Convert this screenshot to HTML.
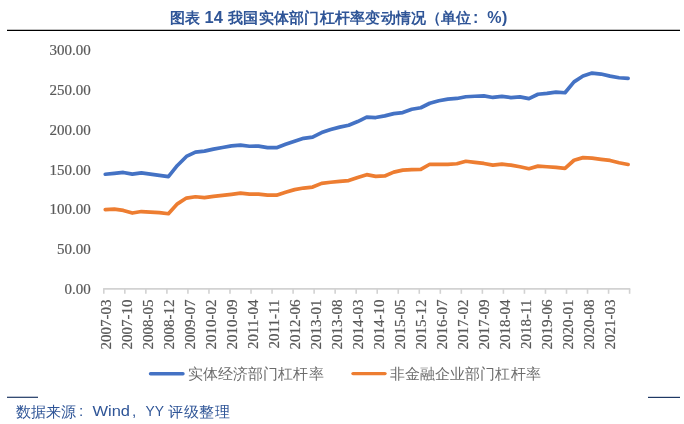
<!DOCTYPE html>
<html><head><meta charset="utf-8"><style>
html,body{margin:0;padding:0;background:#fff;width:684px;height:424px;overflow:hidden}
svg{position:absolute;left:0;top:0;will-change:transform}
.t{font-family:"Liberation Sans",sans-serif;}
</style></head><body>
<svg width="684" height="424" viewBox="0 0 684 424">
<g font-family="Liberation Sans, sans-serif" font-weight="bold" fill="#2f5597">
<text x="169.50 184.75" y="23" font-size="15.3">图表</text>
<text x="204.5" y="23" font-size="16" textLength="18.3" lengthAdjust="spacingAndGlyphs">14</text>
<text x="228.00 243.25 258.50 273.75 289.00 304.25 319.50 334.75 350.00 365.25 380.50 395.75 411.00" y="23" font-size="15.3">我国实体部门杠杆率变动情况</text>
<text x="426" y="23" font-size="15.3">（</text>
<text x="440.70 455.95" y="23" font-size="15.3">单位</text>
<text x="473" y="23" font-size="16">:</text>
<text x="487.3" y="23" font-size="16">%</text>
<text x="502" y="23" font-size="16">)</text>
</g>
<line x1="7" y1="30.4" x2="680" y2="30.4" stroke="#000" stroke-width="1.4"/>
<g font-family="Liberation Serif, serif" font-size="15" fill="#595959" stroke="#595959" stroke-width="0.2"><text x="90.8" y="55.15" text-anchor="end">300.00</text><text x="90.8" y="94.97" text-anchor="end">250.00</text><text x="90.8" y="134.80" text-anchor="end">200.00</text><text x="90.8" y="174.62" text-anchor="end">150.00</text><text x="90.8" y="214.45" text-anchor="end">100.00</text><text x="90.8" y="254.27" text-anchor="end">50.00</text><text x="90.8" y="294.10" text-anchor="end">0.00</text><text transform="translate(110.50,299.5) rotate(-90)" text-anchor="end">2007-03</text><text transform="translate(131.53,299.5) rotate(-90)" text-anchor="end">2007-10</text><text transform="translate(152.57,299.5) rotate(-90)" text-anchor="end">2008-05</text><text transform="translate(173.60,299.5) rotate(-90)" text-anchor="end">2008-12</text><text transform="translate(194.63,299.5) rotate(-90)" text-anchor="end">2009-07</text><text transform="translate(215.66,299.5) rotate(-90)" text-anchor="end">2010-02</text><text transform="translate(236.69,299.5) rotate(-90)" text-anchor="end">2010-09</text><text transform="translate(257.73,299.5) rotate(-90)" text-anchor="end">2011-04</text><text transform="translate(278.76,299.5) rotate(-90)" text-anchor="end">2011-11</text><text transform="translate(299.79,299.5) rotate(-90)" text-anchor="end">2012-06</text><text transform="translate(320.82,299.5) rotate(-90)" text-anchor="end">2013-01</text><text transform="translate(341.85,299.5) rotate(-90)" text-anchor="end">2013-08</text><text transform="translate(362.89,299.5) rotate(-90)" text-anchor="end">2014-03</text><text transform="translate(383.92,299.5) rotate(-90)" text-anchor="end">2014-10</text><text transform="translate(404.95,299.5) rotate(-90)" text-anchor="end">2015-05</text><text transform="translate(425.98,299.5) rotate(-90)" text-anchor="end">2015-12</text><text transform="translate(447.01,299.5) rotate(-90)" text-anchor="end">2016-07</text><text transform="translate(468.05,299.5) rotate(-90)" text-anchor="end">2017-02</text><text transform="translate(489.08,299.5) rotate(-90)" text-anchor="end">2017-09</text><text transform="translate(510.11,299.5) rotate(-90)" text-anchor="end">2018-04</text><text transform="translate(531.14,299.5) rotate(-90)" text-anchor="end">2018-11</text><text transform="translate(552.17,299.5) rotate(-90)" text-anchor="end">2019-06</text><text transform="translate(573.21,299.5) rotate(-90)" text-anchor="end">2020-01</text><text transform="translate(594.24,299.5) rotate(-90)" text-anchor="end">2020-08</text><text transform="translate(615.27,299.5) rotate(-90)" text-anchor="end">2021-03</text></g>
<g stroke="#d2d2d2" stroke-width="1.6">
<line x1="103.1" y1="288.9" x2="630.3000000000001" y2="288.9"/><line x1="103.80" y1="288.9" x2="103.80" y2="293.8"/><line x1="124.83" y1="288.9" x2="124.83" y2="293.8"/><line x1="145.86" y1="288.9" x2="145.86" y2="293.8"/><line x1="166.90" y1="288.9" x2="166.90" y2="293.8"/><line x1="187.93" y1="288.9" x2="187.93" y2="293.8"/><line x1="208.96" y1="288.9" x2="208.96" y2="293.8"/><line x1="229.99" y1="288.9" x2="229.99" y2="293.8"/><line x1="251.02" y1="288.9" x2="251.02" y2="293.8"/><line x1="272.06" y1="288.9" x2="272.06" y2="293.8"/><line x1="293.09" y1="288.9" x2="293.09" y2="293.8"/><line x1="314.12" y1="288.9" x2="314.12" y2="293.8"/><line x1="335.15" y1="288.9" x2="335.15" y2="293.8"/><line x1="356.18" y1="288.9" x2="356.18" y2="293.8"/><line x1="377.22" y1="288.9" x2="377.22" y2="293.8"/><line x1="398.25" y1="288.9" x2="398.25" y2="293.8"/><line x1="419.28" y1="288.9" x2="419.28" y2="293.8"/><line x1="440.31" y1="288.9" x2="440.31" y2="293.8"/><line x1="461.34" y1="288.9" x2="461.34" y2="293.8"/><line x1="482.38" y1="288.9" x2="482.38" y2="293.8"/><line x1="503.41" y1="288.9" x2="503.41" y2="293.8"/><line x1="524.44" y1="288.9" x2="524.44" y2="293.8"/><line x1="545.47" y1="288.9" x2="545.47" y2="293.8"/><line x1="566.50" y1="288.9" x2="566.50" y2="293.8"/><line x1="587.54" y1="288.9" x2="587.54" y2="293.8"/><line x1="608.57" y1="288.9" x2="608.57" y2="293.8"/><line x1="629.60" y1="288.9" x2="629.60" y2="293.8"/></g>
<polyline points="105.30,209.55 114.32,209.15 123.33,210.45 132.34,213.05 141.36,211.55 150.37,212.05 159.38,212.65 168.40,213.75 177.41,203.85 186.43,198.05 195.44,196.75 204.45,197.65 213.47,196.35 222.48,195.45 231.49,194.35 240.51,193.05 249.52,194.15 258.54,194.15 267.55,195.15 276.56,195.15 285.58,192.25 294.59,189.65 303.60,188.05 312.62,187.05 321.63,183.35 330.65,182.25 339.66,181.45 348.67,180.55 357.69,177.45 366.70,174.65 375.71,176.35 384.73,175.95 393.74,172.15 402.75,170.15 411.77,169.55 420.78,169.35 429.80,164.25 438.81,164.45 447.82,164.45 456.84,163.75 465.85,161.25 474.86,162.45 483.88,163.45 492.89,165.15 501.91,164.15 510.92,165.15 519.93,166.75 528.95,168.75 537.96,166.15 546.97,166.75 555.99,167.45 565.00,168.35 574.02,160.25 583.03,157.65 592.04,158.05 601.06,159.35 610.07,160.45 619.08,162.75 628.10,164.45" fill="none" stroke="#ed7d31" stroke-width="3.7" stroke-linejoin="round" stroke-linecap="round"/>
<polyline points="105.30,174.25 114.32,173.35 123.33,172.45 132.34,174.15 141.36,172.85 150.37,174.05 159.38,175.35 168.40,176.65 177.41,165.45 186.43,156.45 195.44,152.15 204.45,151.15 213.47,149.15 222.48,147.45 231.49,145.85 240.51,145.05 249.52,146.25 258.54,146.15 267.55,147.55 276.56,147.65 285.58,144.35 294.59,141.35 303.60,138.35 312.62,137.15 321.63,132.55 330.65,129.45 339.66,127.15 348.67,125.25 357.69,121.55 366.70,117.15 375.71,117.55 384.73,115.85 393.74,113.65 402.75,112.55 411.77,109.25 420.78,107.75 429.80,103.25 438.81,100.75 447.82,99.15 456.84,98.45 465.85,96.75 474.86,96.25 483.88,95.85 492.89,97.45 501.91,96.45 510.92,97.55 519.93,96.85 528.95,98.65 537.96,94.25 546.97,93.35 555.99,92.05 565.00,92.75 574.02,81.85 583.03,75.95 592.04,73.05 601.06,74.05 610.07,76.15 619.08,77.75 628.10,78.35" fill="none" stroke="#4472c4" stroke-width="3.7" stroke-linejoin="round" stroke-linecap="round"/>
<line x1="150.5" y1="373.8" x2="183" y2="373.8" stroke="#4472c4" stroke-width="3.4" stroke-linecap="round"/>
<line x1="353" y1="373.6" x2="385" y2="373.6" stroke="#ed7d31" stroke-width="3.4" stroke-linecap="round"/>
<g font-family="Liberation Serif, serif" font-size="15" fill="#6b6b6b">
<text x="187.60 202.72 217.84 232.96 248.08 263.20 278.32 293.44 308.56" y="379">实体经济部门杠杆率</text>
<text x="389.60 404.72 419.84 434.96 450.08 465.20 480.32 495.44 510.56 525.68" y="379">非金融企业部门杠杆率</text>
</g>
<line x1="7" y1="397.3" x2="38" y2="397.3" stroke="#1f3864" stroke-width="1.2"/>
<line x1="648" y1="397.4" x2="680" y2="397.4" stroke="#1f3864" stroke-width="1.2"/>
<g font-family="Liberation Sans, sans-serif" fill="#2f5597">
<text x="15.50 30.77 46.04 61.31" y="417" font-size="15.3">数据来源</text>
<text x="79" y="416" font-size="15.3">:</text>
<text x="92.5" y="416" font-size="15.3" textLength="37.5" lengthAdjust="spacingAndGlyphs">Wind</text>
<text x="132" y="416" font-size="15.3">,</text>
<text x="145.5" y="416" font-size="15.3" textLength="18.5" lengthAdjust="spacingAndGlyphs">YY</text>
<text x="168.20 183.65 199.10 214.55" y="417" font-size="15.3">评级整理</text>
</g>
</svg>
</body></html>
